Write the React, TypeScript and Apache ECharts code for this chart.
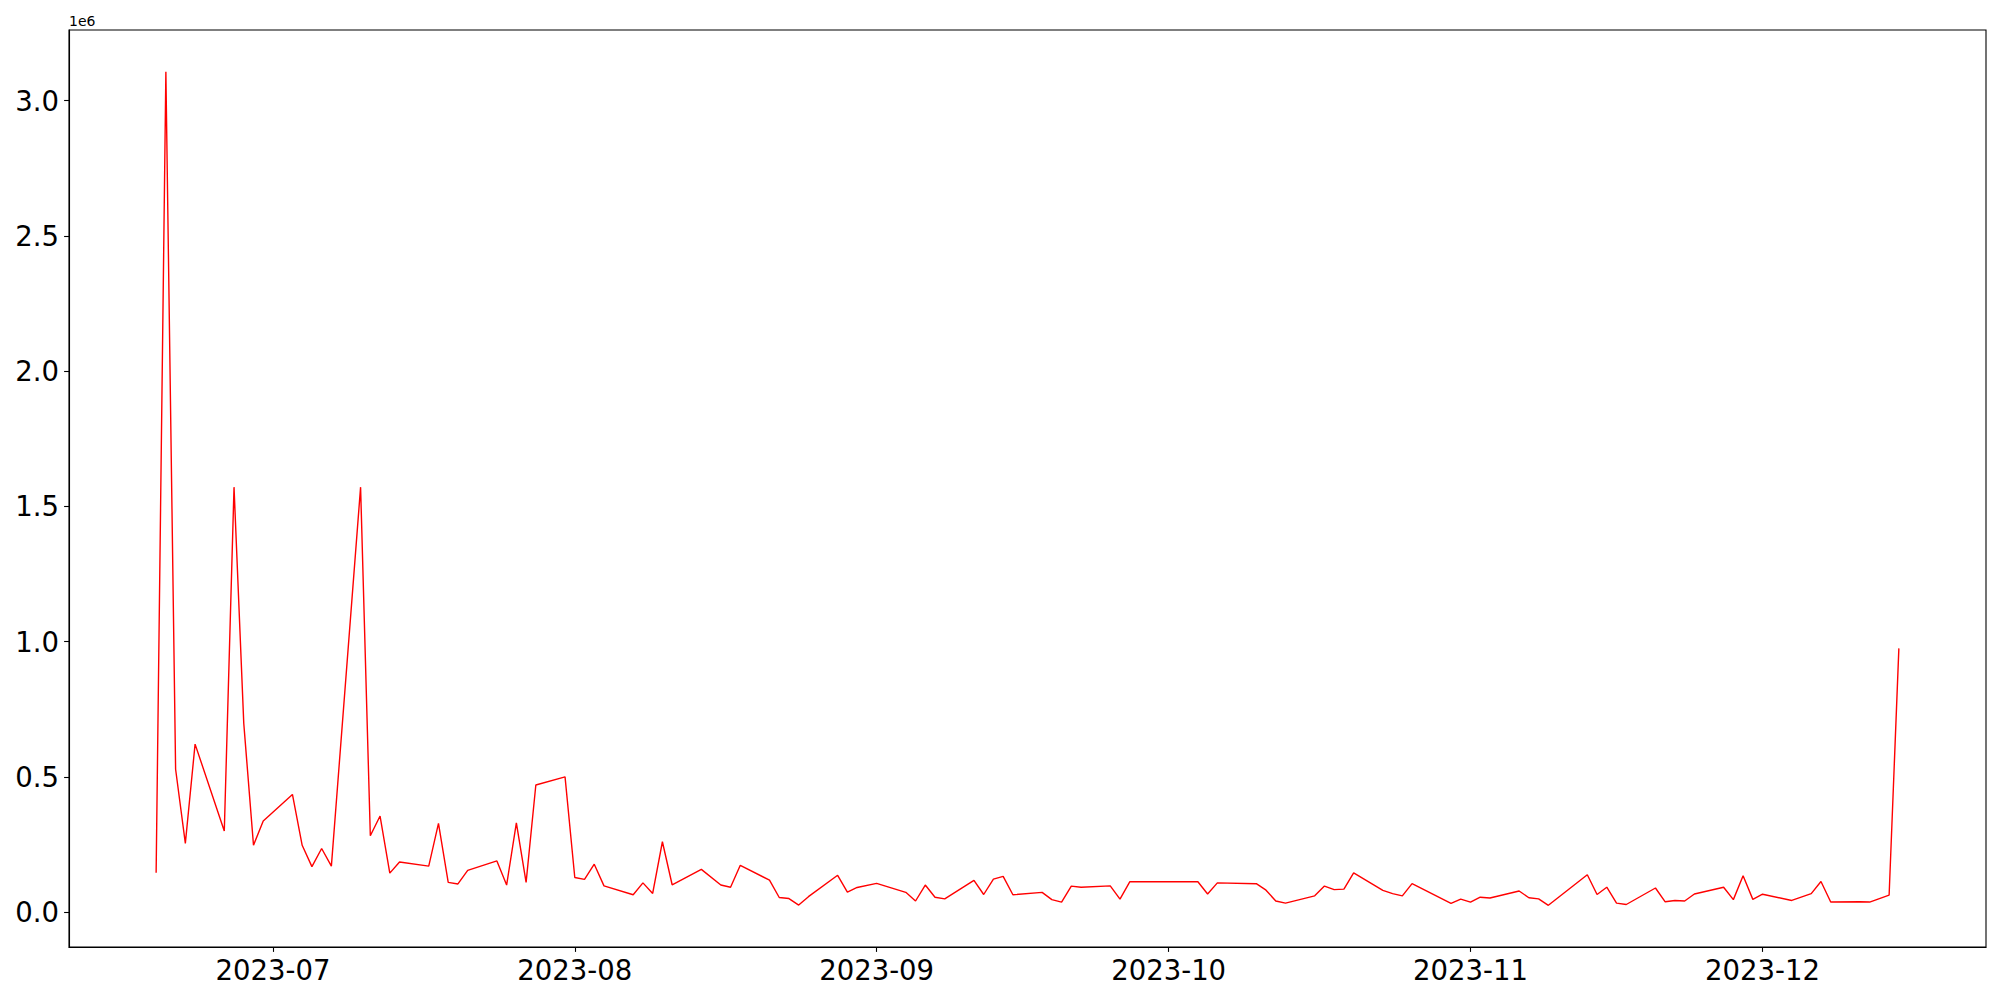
import React, { useEffect, useRef } from "react";
import * as echarts from "echarts";

const dates: string[] = [
  "2023-06-19", "2023-06-20", "2023-06-21", "2023-06-22", "2023-06-23",
  "2023-06-26", "2023-06-27", "2023-06-28", "2023-06-29", "2023-06-30",
  "2023-07-03", "2023-07-04", "2023-07-05", "2023-07-06", "2023-07-07",
  "2023-07-10", "2023-07-11", "2023-07-12", "2023-07-13", "2023-07-14",
  "2023-07-17", "2023-07-18", "2023-07-19", "2023-07-20", "2023-07-21",
  "2023-07-24", "2023-07-25", "2023-07-26", "2023-07-27", "2023-07-28",
  "2023-07-31", "2023-08-01", "2023-08-02", "2023-08-03", "2023-08-04",
  "2023-08-07", "2023-08-08", "2023-08-09", "2023-08-10", "2023-08-11",
  "2023-08-14", "2023-08-16", "2023-08-17", "2023-08-18",
  "2023-08-21", "2023-08-22", "2023-08-23", "2023-08-24", "2023-08-25",
  "2023-08-28", "2023-08-29", "2023-08-30", "2023-09-01",
  "2023-09-04", "2023-09-05", "2023-09-06", "2023-09-07", "2023-09-08",
  "2023-09-11", "2023-09-12", "2023-09-13", "2023-09-14", "2023-09-15",
  "2023-09-18", "2023-09-19", "2023-09-20", "2023-09-21", "2023-09-22",
  "2023-09-25", "2023-09-26", "2023-09-27", "2023-10-04", "2023-10-05",
  "2023-10-06", "2023-10-10", "2023-10-11", "2023-10-12", "2023-10-13",
  "2023-10-16", "2023-10-17", "2023-10-18", "2023-10-19", "2023-10-20",
  "2023-10-23", "2023-10-24", "2023-10-25", "2023-10-26",
  "2023-10-30", "2023-10-31", "2023-11-01", "2023-11-02", "2023-11-03",
  "2023-11-06", "2023-11-07", "2023-11-08", "2023-11-09",
  "2023-11-13", "2023-11-14", "2023-11-15", "2023-11-16", "2023-11-17",
  "2023-11-20", "2023-11-21", "2023-11-22", "2023-11-23", "2023-11-24",
  "2023-11-27", "2023-11-28", "2023-11-29", "2023-11-30", "2023-12-01",
  "2023-12-04", "2023-12-06", "2023-12-07", "2023-12-08",
  "2023-12-11", "2023-12-12", "2023-12-14", "2023-12-15",
];

const values: number[] = [
  145000, 3107000, 528000, 254000, 621000,
  300000, 1571000, 698000, 247000, 337000,
  435000, 247000, 168000, 235000, 170000,
  1571000, 282000, 355000, 144000, 185000,
  170000, 328000, 110000, 104000, 154000,
  189000, 100000, 330000, 110000, 470000,
  500000, 128000, 121000, 177000, 97000,
  64000, 108000, 69000, 260000, 101000,
  158000, 100000, 92000, 173000,
  118000, 54000, 50000, 26000, 57000,
  136000, 74000, 91000, 106000,
  73000, 41000, 100000, 55000, 49000,
  117000, 65000, 122000, 132000, 64000,
  73000, 46000, 37000, 96000, 92000,
  97000, 48000, 112000, 112000, 67000,
  108000, 105000, 81000, 41000, 33000,
  60000, 96000, 83000, 85000, 145000,
  80000, 68000, 60000, 105000,
  32000, 48000, 37000, 55000, 52000,
  78000, 53000, 49000, 25000,
  138000, 65000, 92000, 33000, 28000,
  89000, 38000, 43000, 41000, 67000,
  92000, 46000, 134000, 47000, 66000,
  43000, 68000, 113000, 37000,
  38000, 37000, 63000, 975000,
];

const xTickDates: string[] = ["2023-07-01", "2023-08-01", "2023-09-01", "2023-10-01", "2023-11-01", "2023-12-01"];
const yTicks: number[] = [0, 500000, 1000000, 1500000, 2000000, 2500000, 3000000];
const offsetLabel = "1e6";

const FONT = "DejaVu Sans";

export default function App() {
  const ref = useRef<HTMLDivElement>(null);
  useEffect(() => {
    if (!ref.current) return;
    const chart = echarts.init(ref.current, undefined, { renderer: "svg" });
    const ts = dates.map((d) => Date.parse(d));
    const data = ts.map((t, i) => [t, values[i]]);
    const t0 = Math.min(...ts);
    const t1 = Math.max(...ts);
    const v0 = Math.min(...values);
    const v1 = Math.max(...values);
    const xMin = t0 - 0.05 * (t1 - t0);
    const xMax = t1 + 0.05 * (t1 - t0);
    const yMin = v0 - 0.05 * (v1 - v0);
    const yMax = v1 + 0.05 * (v1 - v0);
    const xTicks = xTickDates.map((d) => Date.parse(d));

    chart.setOption({
      animation: false,
      backgroundColor: "#ffffff",
      title: {
        text: offsetLabel,
        left: 69,
        top: 14,
        padding: 0,
        textStyle: {
          fontFamily: FONT,
          fontSize: 14,
          fontWeight: "normal",
          color: "#000000",
        },
      },
      grid: {
        left: 69,
        right: 14,
        top: 30,
        bottom: 53,
        show: true,
        borderColor: "#000000",
        borderWidth: 1.1,
        backgroundColor: "transparent",
      },
      xAxis: {
        type: "value",
        min: xMin,
        max: xMax,
        scale: true,
        axisLine: { show: true, onZero: false, lineStyle: { color: "#000000", width: 1.1 } },
        splitLine: { show: false },
        axisTick: {
          show: true,
          customValues: xTicks,
          length: 4.9,
          lineStyle: { color: "#000000", width: 1.1 },
        },
        axisLabel: {
          show: true,
          customValues: xTicks,
          margin: 9,
          fontFamily: FONT,
          fontSize: 27.5,
          color: "#000000",
          formatter: (v: number) => {
            const d = new Date(v);
            return d.getUTCFullYear() + "-" + String(d.getUTCMonth() + 1).padStart(2, "0");
          },
        },
      },
      yAxis: {
        type: "value",
        min: yMin,
        max: yMax,
        axisLine: { show: true, onZero: false, lineStyle: { color: "#000000", width: 1.1 } },
        splitLine: { show: false },
        axisTick: {
          show: true,
          customValues: yTicks,
          length: 4.9,
          lineStyle: { color: "#000000", width: 1.1 },
        },
        axisLabel: {
          show: true,
          customValues: yTicks,
          margin: 10,
          fontFamily: FONT,
          fontSize: 27.5,
          color: "#000000",
          formatter: (v: number) => (v / 1e6).toFixed(1),
        },
      },
      series: [
        {
          type: "line",
          data,
          symbol: "none",
          lineStyle: { color: "#ff0000", width: 1.4 },
          silent: true,
        },
      ],
    });
    return () => chart.dispose();
  }, []);
  return (
    <div
      ref={ref}
      style={{ position: "fixed", left: 0, top: 0, width: 2000, height: 1000, background: "#fff" }}
    />
  );
}
